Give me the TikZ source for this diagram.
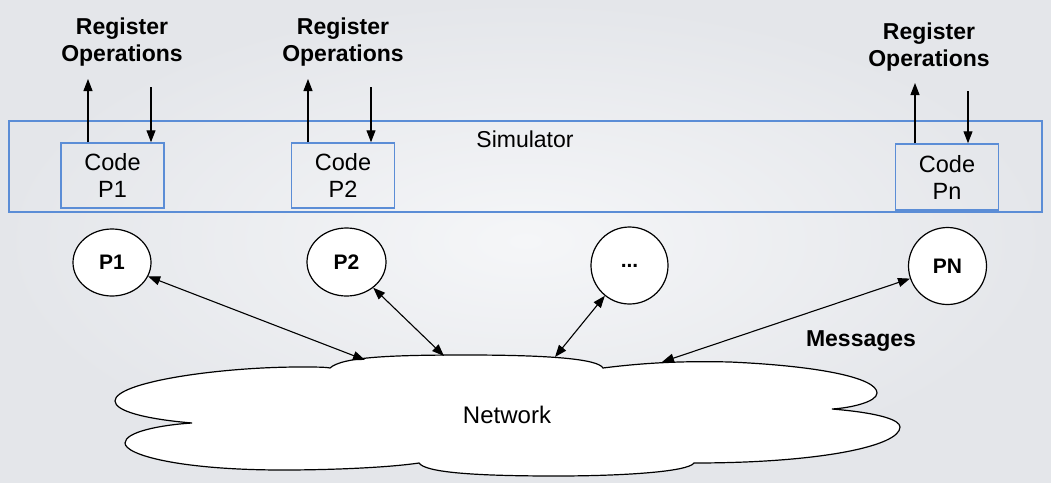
\documentclass[tikz,border=0pt]{standalone}
\usepackage{fontspec}
\setmainfont{Liberation Sans}
\usetikzlibrary{arrows.meta,shapes.geometric}
\definecolor{boxblue}{RGB}{91,141,214}
\definecolor{bgin}{RGB}{245,246,248}
\definecolor{bgout}{RGB}{228,230,234}
\begin{document}
\begin{tikzpicture}[x=1pt,y=-1pt,
  every node/.style={inner sep=0pt},
  regtext/.style={font=\fontsize{23}{27}\selectfont},
  boldtext/.style={font=\bfseries\fontsize{23}{27}\selectfont, align=center},
  simbox/.style={draw=boxblue, line width=1.5pt},
  codebox/.style={draw=boxblue, line width=1.5pt, minimum width=103pt, minimum height=65pt, align=center, font=\fontsize{23.5}{27}\selectfont},
  proc/.style={draw=black, fill=white, line width=1.2pt, ellipse, font=\bfseries\fontsize{21}{24}\selectfont},
  arr/.style={-{Triangle[length=12pt,width=9pt]}, line width=1.1pt},
  biarr/.style={{Triangle[length=12pt,width=9pt]}-{Triangle[length=12pt,width=9pt]}, line width=1.1pt},
]
\useasboundingbox (0,0) rectangle (1051,482);
\shade[inner color=bgin, outer color=bgout] (0,0) rectangle (1051,482);

% simulator
\node[simbox, minimum width=1033pt, minimum height=91pt] (sim) at (525.5,166.4) {};
\node[regtext] (simlabel) at (525,139) {Simulator};

% code boxes
\node[codebox] (c1) at (112.5,175.5) {Code\\P1};
\node[codebox] (c2) at (343,175.5) {Code\\P2};
\node[codebox, minimum height=66pt] (cn) at (947,177) {Code\\Pn};

% register operations labels
\node[boldtext] (r1) at (122,42) {Register\\Operations};
\node[boldtext] (r2) at (343,42) {Register\\Operations};
\node[boldtext] (rn) at (929,47) {Register\\Operations};

% register arrows
\coordinate (u1) at (88,79);
\coordinate (d1) at (151,87);
\coordinate (u2) at (308,79);
\coordinate (d2) at (371,87);
\coordinate (un) at (915,83);
\coordinate (dn) at (968,91);
\draw[arr] (u1 |- c1.north) -- (u1);
\draw[arr] (d1) -- (d1 |- c1.north);
\draw[arr] (u2 |- c2.north) -- (u2);
\draw[arr] (d2) -- (d2 |- c2.north);
\draw[arr] (un |- cn.north) -- (un);
\draw[arr] (dn) -- (dn |- cn.north);

% processes
\node[proc, minimum width=78pt, minimum height=67pt] (p1) at (112,262.5) {P1};
\node[proc, minimum width=79pt, minimum height=68pt] (p2) at (346.5,262) {P2};
\node[proc, minimum width=77pt, minimum height=77pt] (pd) at (629.5,265.5) {...};
\node[proc, minimum width=78pt, minimum height=77pt] (pn) at (947.5,266) {PN};

% cloud
\draw[line width=1.2pt, fill=white]
  (330,368) .. controls (342,357) and (390,355) .. (466,355)
  .. controls (550,355) and (598,359) .. (603,368)
  .. controls (650,362) and (690,361) .. (730,362)
  .. controls (820,366) and (877,378) .. (877,393)
  .. controls (877,402) and (850,408) .. (832,409)
  .. controls (880,413) and (900,420) .. (900,427)
  .. controls (900,446) and (820,463) .. (694,463)
  .. controls (688,472) and (620,476) .. (556,476)
  .. controls (470,476) and (425,472) .. (419,463)
  .. controls (385,468) and (325,470) .. (283,470)
  .. controls (180,470) and (125,455) .. (125,443)
  .. controls (125,432) and (160,425) .. (192,423)
  .. controls (145,419) and (115,411) .. (115,401)
  .. controls (115,382) and (220,367) .. (300,367)
  .. controls (315,367) and (325,367) .. (330,368) -- cycle;
\node[regtext, font=\fontsize{24}{28}\selectfont] (net) at (507,414.5) {Network};

% network attach points
\coordinate (n1) at (365,360);
\coordinate (n2) at (444,356);
\coordinate (n3) at (555,357);
\coordinate (n4) at (662,362);

\draw[biarr] (p1) -- (n1);
\draw[biarr] (p2) -- (n2);
\draw[biarr] (pd) -- (n3);
\draw[biarr] (pn) -- (n4);

\node[boldtext] (msg) at (861,341) {Messages};
\end{tikzpicture}
\end{document}
